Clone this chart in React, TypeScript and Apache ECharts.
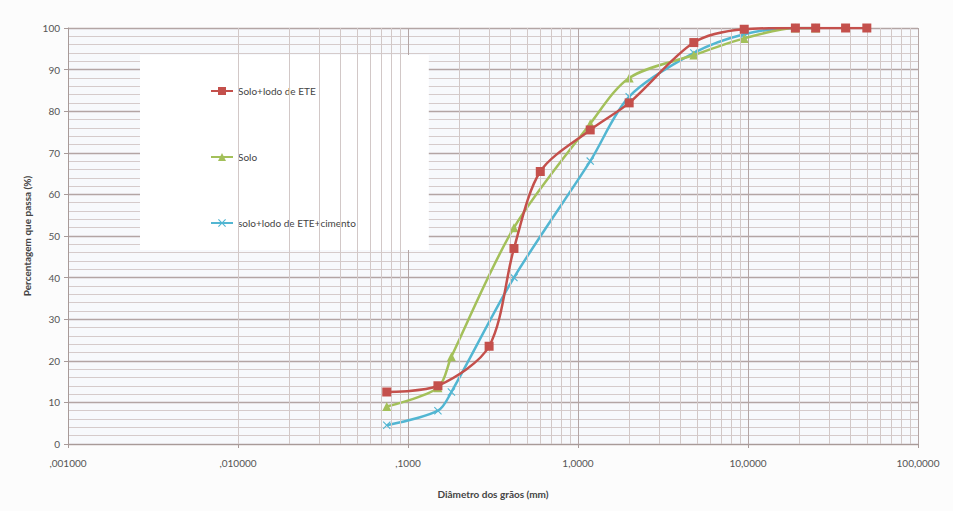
import React, { useEffect, useRef } from "react";
import * as echarts from "echarts";

const seriesNames = ["Solo+lodo de ETE", "Solo", "solo+lodo de ETE+cimento"];
const colors = ["#c4504c", "#a3c05a", "#52b6d2"];

// [diameter (mm), % passing]
const soloLodo: [number, number][] = [
  [0.075, 12.5], [0.15, 14], [0.3, 23.5], [0.42, 47], [0.6, 65.5], [1.18, 75.5],
  [2, 82], [4.8, 96.5], [9.5, 99.7], [19, 100], [25, 100], [37.5, 100], [50, 100],
];
const solo: [number, number][] = [
  [0.075, 9], [0.15, 13.5], [0.18, 21], [0.42, 52], [1.18, 77], [2, 88],
  [4.8, 93.5], [9.5, 97.5], [19, 100], [25, 100],
];
const soloLodoCimento: [number, number][] = [
  [0.075, 4.5], [0.15, 8], [0.18, 12.5], [0.42, 40], [1.18, 68], [2, 83.5],
  [4.8, 94], [9.5, 98.5], [19, 100], [25, 100],
];

const xTickValues = [0.001, 0.01, 0.1, 1, 10, 100];
const xTickLabels = [",001000", ",010000", ",1000", "1,0000", "10,0000", "100,0000"];

const FONT = "Lato, 'Open Sans', sans-serif";
const X_SYMBOL = "path://M1,0L5,4L9,0L10,1L6,5L10,9L9,10L5,6L1,10L0,9L4,5L0,1Z";

export default function App() {
  const ref = useRef<HTMLDivElement>(null);
  useEffect(() => {
    if (!ref.current) return;
    const chart = echarts.init(ref.current, undefined, { renderer: "svg" });

    // log-paper minor vertical grid lines (2..9 in each decade)
    const minorX: any[] = [];
    for (let d = 0; d < xTickValues.length - 1; d++) {
      for (let k = 2; k <= 9; k++) minorX.push({ xAxis: xTickValues[d] * k });
    }

    const lbl = (v: number) => {
      const i = xTickValues.findIndex((t) => Math.abs(Math.log10(t) - Math.log10(v)) < 1e-6);
      return i >= 0 ? xTickLabels[i] : "";
    };

    chart.setOption({
      animation: false,
      backgroundColor: "#fcfcfc",
      textStyle: { fontFamily: FONT },
      grid: {
        left: 68, right: 35, top: 28, bottom: 67,
        show: true, backgroundColor: "#f7f9fc", borderWidth: 0,
      },
      legend: {
        data: seriesNames,
        orient: "vertical",
        left: 140,
        top: 55,
        itemGap: 56,
        itemWidth: 22,
        itemHeight: 10,
        padding: [31, 73, 22, 70],
        backgroundColor: "#ffffff",
        textStyle: { fontSize: 10, color: "#444", fontFamily: FONT },
      },
      xAxis: {
        type: "log",
        logBase: 10,
        min: 0.001,
        max: 100,
        name: "Diâmetro dos grãos (mm)",
        nameLocation: "middle",
        nameGap: 45,
        nameTextStyle: { fontSize: 10, fontWeight: "bold", color: "#444" },
        axisLine: { show: true, lineStyle: { color: "#a89a98", width: 1 } },
        axisTick: { show: true, length: 4, lineStyle: { color: "#a89a98" } },
        axisLabel: { fontSize: 10, color: "#555", margin: 14, formatter: lbl },
        splitLine: { show: true, lineStyle: { color: "#b3a5a4", width: 1 } },
      },
      yAxis: {
        type: "value",
        min: 0,
        max: 100,
        interval: 10,
        name: "Percentagem que passa (%)",
        nameLocation: "middle",
        nameGap: 36,
        nameTextStyle: { fontSize: 10, fontWeight: "bold", color: "#444" },
        axisLine: { show: true, lineStyle: { color: "#a89a98", width: 1 } },
        axisTick: { show: true, length: 4, lineStyle: { color: "#a89a98" } },
        axisLabel: { fontSize: 10, color: "#555", margin: 8 },
        splitLine: { show: true, lineStyle: { color: "#b3a5a4", width: 1.3 } },
        minorTick: { show: false, splitNumber: 5 },
        minorSplitLine: { show: true, lineStyle: { color: "#d5cbcb", width: 1 } },
      },
      series: [
        {
          name: "_grid",
          type: "line",
          data: [],
          z: 1,
          silent: true,
          markLine: {
            silent: true,
            symbol: "none",
            label: { show: false },
            lineStyle: { color: "#d2c8c7", width: 1, type: "solid" },
            data: minorX,
            animation: false,
          },
        },
        {
          name: seriesNames[0],
          type: "line",
          data: soloLodo,
          smooth: 0.3,
          symbol: "rect",
          symbolSize: 9,
          color: colors[0],
          lineStyle: { width: 2.5 },
          z: 5,
        },
        {
          name: seriesNames[1],
          type: "line",
          data: solo,
          smooth: 0.3,
          symbol: "triangle",
          symbolSize: 9,
          color: colors[1],
          lineStyle: { width: 2.5 },
          z: 4,
        },
        {
          name: seriesNames[2],
          type: "line",
          data: soloLodoCimento,
          smooth: 0.3,
          symbol: X_SYMBOL,
          symbolSize: 8,
          color: colors[2],
          lineStyle: { width: 2.5 },
          z: 3,
        },
      ],
    });
    return () => chart.dispose();
  }, []);
  return (
    <div
      ref={ref}
      style={{ position: "fixed", left: 0, top: 0, width: 953, height: 511 }}
    />
  );
}
